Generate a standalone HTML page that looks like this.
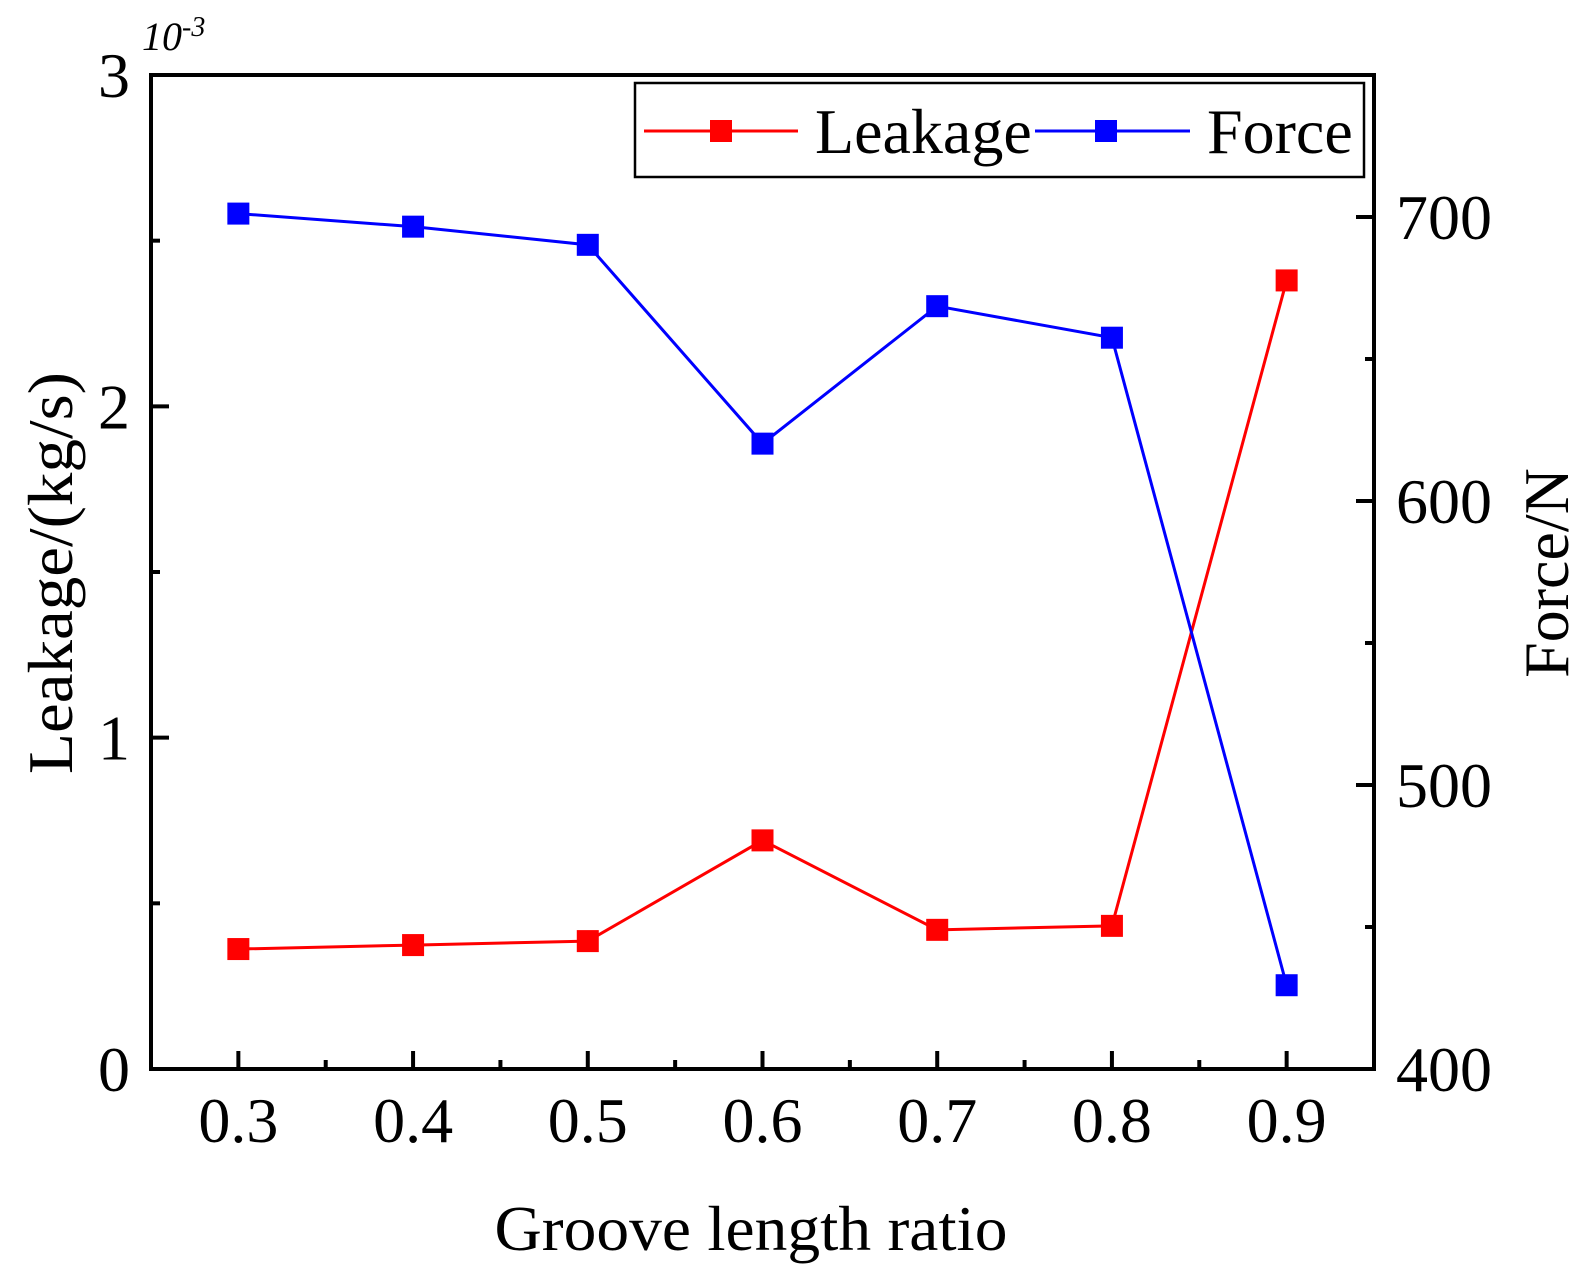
<!DOCTYPE html>
<html><head><meta charset="utf-8"><style>
html,body{margin:0;padding:0;background:#fff;}
svg{display:block;font-family:"Liberation Serif",serif;}
</style></head><body>
<svg id="chart" width="1584" height="1276" viewBox="0 0 1584 1276" xmlns="http://www.w3.org/2000/svg">
<g id="axes"></g>
<g id="series"></g>
<g>
  <rect x="635" y="83" width="729" height="94" fill="#fff" stroke="#000" stroke-width="2.5"/>
  <g>
    <line x1="644" y1="131" x2="798" y2="131" stroke="#f00" stroke-width="3"/>
    <rect x="710" y="120" width="22" height="22" fill="#f00"/>
    <text x="815" y="153" font-size="64">Leakage</text>
  </g>
  <g>
    <line x1="1035" y1="131" x2="1190" y2="131" stroke="#00f" stroke-width="3"/>
    <rect x="1095" y="120" width="22" height="22" fill="#00f"/>
    <text x="1207" y="153" font-size="64">Force</text>
  </g>
</g>
<text x="751" y="1250" font-size="64" text-anchor="middle" textLength="513" lengthAdjust="spacingAndGlyphs">Groove length ratio</text>
<text transform="translate(72,573) rotate(-90)" font-size="64" text-anchor="middle" textLength="402" lengthAdjust="spacingAndGlyphs">Leakage/(kg/s)</text>
<text transform="translate(1568,573) rotate(-90)" font-size="64" text-anchor="middle">Force/N</text>
<text x="142" y="50" font-size="40" font-style="italic">10<tspan dy="-14" font-size="28">-3</tspan></text>
</svg>
<script>
const categories = [0.3, 0.4, 0.5, 0.6, 0.7, 0.8, 0.9];
const leakageValues = [0.362, 0.374, 0.386, 0.69, 0.42, 0.432, 2.38];
const forceValues = [701.2, 696.6, 690.2, 620.2, 668.6, 657.5, 429.5];
const xTicks = ["0.3","0.4","0.5","0.6","0.7","0.8","0.9"];
const leftTicks = ["0","1","2","3"];
const rightTicks = ["400","500","600","700"];

const L=151, R=1374, T=75, B=1069;
const NS="http://www.w3.org/2000/svg";
const xs = v => L + (v-0.25)/(0.95-0.25)*(R-L);
const yl = v => B - v/3*(B-T);
const yr = v => B - (v-400)/350*(B-T);
const axes=document.getElementById('axes'), series=document.getElementById('series');
function mk(tag,attrs,parent){const e=document.createElementNS(NS,tag);for(const k in attrs)e.setAttribute(k,attrs[k]);parent.appendChild(e);return e;}

const frame=mk('rect',{x:L,y:T,width:R-L,height:B-T,fill:'none',stroke:'#000','stroke-width':4},axes);



xTicks.forEach((t,i)=>{
  const v=parseFloat(t), x=xs(v);
  const tk=mk('line',{x1:x,y1:B,x2:x,y2:B-18,stroke:'#000','stroke-width':4},axes);
  
  
  const m=mk('line',{x1:xs(v+0.05),y1:B,x2:xs(v+0.05),y2:B-9,stroke:'#000','stroke-width':4},axes);
  
  
  const tx=mk('text',{x:x,y:1142,'font-size':64,'text-anchor':'middle'},axes);
  tx.textContent=t;
  
  
});
leftTicks.forEach(t=>{
  const v=parseFloat(t), y=yl(v);
  if(v>0&&v<3){const tk=mk('line',{x1:L,y1:y,x2:L+18,y2:y,stroke:'#000','stroke-width':4},axes);
  
  }
  if(v<3){const m=mk('line',{x1:L,y1:yl(v+0.5),x2:L+9,y2:yl(v+0.5),stroke:'#000','stroke-width':4},axes);
  
  }
  const tx=mk('text',{x:130,y:y+22,'font-size':64,'text-anchor':'end'},axes);
  tx.textContent=t;
  
  
});
rightTicks.forEach(t=>{
  const v=parseFloat(t), y=yr(v);
  if(v>400){const tk=mk('line',{x1:R,y1:y,x2:R-18,y2:y,stroke:'#000','stroke-width':4},axes);
  
  }
  const m=mk('line',{x1:R,y1:yr(v+50),x2:R-9,y2:yr(v+50),stroke:'#000','stroke-width':4},axes);
  
  
  const tx=mk('text',{x:1396,y:y+22,'font-size':64},axes);
  tx.textContent=t;
  
  
});

function drawSeries(vals,yf,color,name){
  const pts=categories.map((c,i)=>xs(c)+','+yf(vals[i])).join(' ');
  const pl=mk('polyline',{points:pts,fill:'none',stroke:color,'stroke-width':3},series);
  
  
  categories.forEach((c,i)=>{
    const r=mk('rect',{x:xs(c)-11,y:yf(vals[i])-11,width:22,height:22,fill:color},series);
    
    
  });
}
drawSeries(leakageValues,yl,'#f00','leakage');
drawSeries(forceValues,yr,'#00f','force');
</script>
</body></html>
